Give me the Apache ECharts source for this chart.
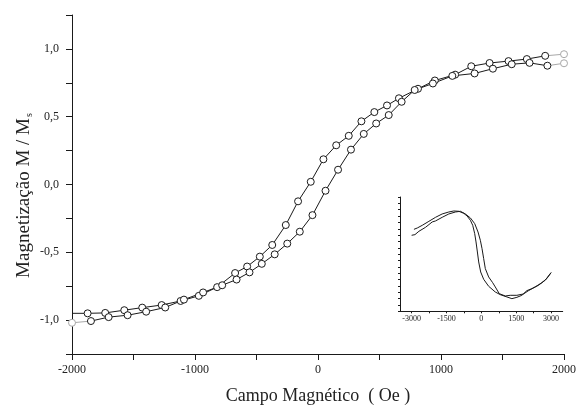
<!DOCTYPE html>
<html>
<head>
<meta charset="utf-8">
<script src="https://cdn.jsdelivr.net/npm/echarts@6/dist/echarts.min.js"></script>
<style>
  html, body { margin: 0; padding: 0; background: #fff; }
  #chart { width: 579px; height: 410px; }
</style>
</head>
<body>
<div id="chart"></div>
<script>
// Descending branch (field swept from +2000 Oe down to -2000 Oe)
const descField = [1847, 1698, 1549, 1395, 1246, 1115, 950, 813, 658, 561, 458, 353, 250, 148, 44,
  -59, -162, -262, -372, -473, -576, -674, -820, -969, -1117, -1271, -1429, -1575, -1730, -1873];
const descMag = [0.949, 0.925, 0.910, 0.896, 0.872, 0.810, 0.767, 0.706, 0.636, 0.583, 0.534, 0.466, 0.359, 0.289, 0.186,
  0.020, -0.124, -0.299, -0.446, -0.532, -0.605, -0.653, -0.757, -0.821, -0.859, -0.889, -0.908, -0.927, -0.947, -0.950];
const descStart = [2000, 0.961];   // faint first reading
const descEnd = [-2000, -0.950];   // tail at the axis

// Ascending branch (field swept from -2000 Oe up to +2000 Oe)
const ascField = [-1846, -1702, -1548, -1397, -1242, -1090, -934, -779, -662, -557, -457, -352, -250, -148, -45,
  61, 163, 268, 372, 473, 575, 680, 786, 934, 1092, 1273, 1422, 1575, 1720, 1865];
const ascMag = [-1.007, -0.978, -0.964, -0.938, -0.907, -0.849, -0.796, -0.743, -0.701, -0.648, -0.585, -0.515, -0.436, -0.348, -0.226,
  -0.046, 0.109, 0.257, 0.373, 0.450, 0.512, 0.610, 0.697, 0.745, 0.801, 0.819, 0.854, 0.887, 0.897, 0.876];
const ascStart = [-2000, -1.020];
const ascEnd = [2000, 0.894];

// Inset traces
const insetField1 = [-2900, -2757, -2543, -2257, -1971, -1686, -1400, -1186, -971, -757, -614, -471, -371, -286, -229,
  -171, -114, -29, 100, 314, 600, 814, 1100, 1314, 1529, 1743, 1957, 2171, 2457, 2743, 3000];
const insetSignal1 = [12.91, 13.12, 13.54, 14.17, 14.80, 15.33, 15.64, 15.80, 15.75, 15.43, 15.01, 14.33, 13.54, 12.23, 10.92,
  9.34, 7.77, 6.19, 5.04, 3.94, 3.04, 2.62, 2.26, 1.99, 2.20, 2.52, 3.25, 3.57, 4.09, 4.88, 6.09];
const insetField2 = [-3000, -2857, -2686, -2400, -2114, -1971, -1686, -1400, -1114, -900, -686, -471, -286, -143, -43,
  29, 100, 171, 314, 486, 600, 771, 1029, 1243, 1529, 1814, 2029, 2314, 2600, 2814, 3000];
const insetSignal2 = [11.97, 12.07, 12.60, 13.23, 14.07, 14.23, 14.80, 15.33, 15.64, 15.75, 15.33, 14.70, 13.81, 12.49, 11.18,
  9.87, 8.29, 6.72, 5.41, 4.51, 3.83, 2.78, 2.41, 2.52, 2.52, 2.73, 3.25, 3.83, 4.51, 5.14, 6.09];

const xLabelValues = [-2000, -1000, 0, 1000, 2000];
const yLabelValues = [-1.0, -0.5, 0.0, 0.5, 1.0];
const insetLabelValues = [-3000, -1500, 0, 1500, 3000];

const zip = (a, b) => a.map((v, i) => [v, b[i]]);
const ink = '#1a1a1a';
const faint = '#a8a8a8';
const serif = '"Liberation Serif", "DejaVu Serif", serif';

const descData = [...zip(descField, descMag), { value: descEnd, symbol: 'none' }];
const ascData = zip(ascField, ascMag);

const markerStyle = { color: '#fff', borderColor: ink, borderWidth: 1 };
const faintMarker = { color: '#fff', borderColor: faint, borderWidth: 1 };

const chart = echarts.init(document.getElementById('chart'), null, { renderer: 'canvas' });
chart.setOption({
  animation: false,
  backgroundColor: '#fff',
  grid: [
    { left: 72, right: 15, top: 15, bottom: 53 },
    { left: 400, top: 197, width: 162.7, height: 114.3 }
  ],
  xAxis: [
    {
      gridIndex: 0, type: 'value', min: -2000, max: 2000, interval: 500,
      name: 'Campo Magnético  ( Oe )', nameLocation: 'middle', nameGap: 33, nameMoveOverlap: false,
      nameTextStyle: { fontFamily: serif, fontSize: 18, color: '#222' },
      axisLine: { onZero: false, lineStyle: { color: ink, width: 1 } },
      axisTick: { length: 6, lineStyle: { color: ink } },
      splitLine: { show: false },
      axisLabel: {
        margin: 10, fontFamily: serif, fontSize: 12, color: '#222',
        formatter: v => xLabelValues.includes(v) ? String(v) : ''
      }
    },
    {
      gridIndex: 1, type: 'value', min: -3500, max: 3500,
      axisLine: { onZero: false, lineStyle: { color: ink, width: 1 } },
      axisTick: { length: 2, customValues: [-3000, -2250, -1500, -750, 0, 750, 1500, 2250, 3000], lineStyle: { color: ink } },
      splitLine: { show: false },
      axisLabel: {
        customValues: insetLabelValues, margin: 4, fontFamily: serif, fontSize: 8, color: '#222',
        formatter: v => String(v)
      }
    }
  ],
  yAxis: [
    {
      gridIndex: 0, type: 'value', min: -1.25, max: 1.25, interval: 0.25,
      name: '{m|Magnetização M / M}{s|s}', nameLocation: 'middle', nameGap: 38, nameRotate: 90,
      nameMoveOverlap: false,
      nameTextStyle: {
        padding: [0, 22, 0, 0],
        rich: {
          m: { fontFamily: serif, fontSize: 19, color: '#222' },
          s: { fontFamily: serif, fontSize: 10, color: '#222', verticalAlign: 'bottom', padding: [9, 0, 0, 1] }
        }
      },
      axisLine: { onZero: false, lineStyle: { color: ink, width: 1 } },
      axisTick: { length: 6, lineStyle: { color: ink } },
      splitLine: { show: false },
      axisLabel: {
        margin: 13, fontFamily: serif, fontSize: 12, color: '#222',
        formatter: v => {
          const hit = yLabelValues.find(t => Math.abs(t - v) < 1e-9);
          return hit === undefined ? '' : hit.toFixed(1).replace('.', ',');
        }
      }
    },
    {
      gridIndex: 1, type: 'value', min: 0, max: 18, interval: 1,
      axisLine: { onZero: false, lineStyle: { color: ink, width: 1 } },
      axisTick: { length: 2, lineStyle: { color: ink } },
      splitLine: { show: false },
      axisLabel: { show: false }
    }
  ],
  series: [
    {
      type: 'line', xAxisIndex: 0, yAxisIndex: 0, z: 1,
      data: [{ value: [descField[0], descMag[0]], symbol: 'none' }, descStart],
      symbol: 'circle', symbolSize: 7, itemStyle: faintMarker,
      lineStyle: { color: faint, width: 1 }, clip: false
    },
    {
      type: 'line', xAxisIndex: 0, yAxisIndex: 0, z: 1,
      data: [ascStart, { value: [ascField[0], ascMag[0]], symbol: 'none' }],
      symbol: 'circle', symbolSize: 7, itemStyle: faintMarker,
      lineStyle: { color: faint, width: 1 }, clip: false
    },
    {
      type: 'line', xAxisIndex: 0, yAxisIndex: 0, z: 1,
      data: [{ value: [ascField[ascField.length - 1], ascMag[ascMag.length - 1]], symbol: 'none' }, ascEnd],
      symbol: 'circle', symbolSize: 7, itemStyle: faintMarker,
      lineStyle: { color: faint, width: 1 }, clip: false
    },
    {
      type: 'line', xAxisIndex: 0, yAxisIndex: 0, z: 3,
      data: descData,
      symbol: 'circle', symbolSize: 7, itemStyle: markerStyle,
      lineStyle: { color: ink, width: 1 }, clip: false
    },
    {
      type: 'line', xAxisIndex: 0, yAxisIndex: 0, z: 3,
      data: ascData,
      symbol: 'circle', symbolSize: 7, itemStyle: markerStyle,
      lineStyle: { color: ink, width: 1 }, clip: false
    },
    {
      type: 'line', xAxisIndex: 1, yAxisIndex: 1, showSymbol: false,
      data: zip(insetField1, insetSignal1),
      lineStyle: { color: ink, width: 1 }
    },
    {
      type: 'line', xAxisIndex: 1, yAxisIndex: 1, showSymbol: false,
      data: zip(insetField2, insetSignal2),
      lineStyle: { color: ink, width: 1 }
    }
  ]
});
</script>
</body>
</html>
